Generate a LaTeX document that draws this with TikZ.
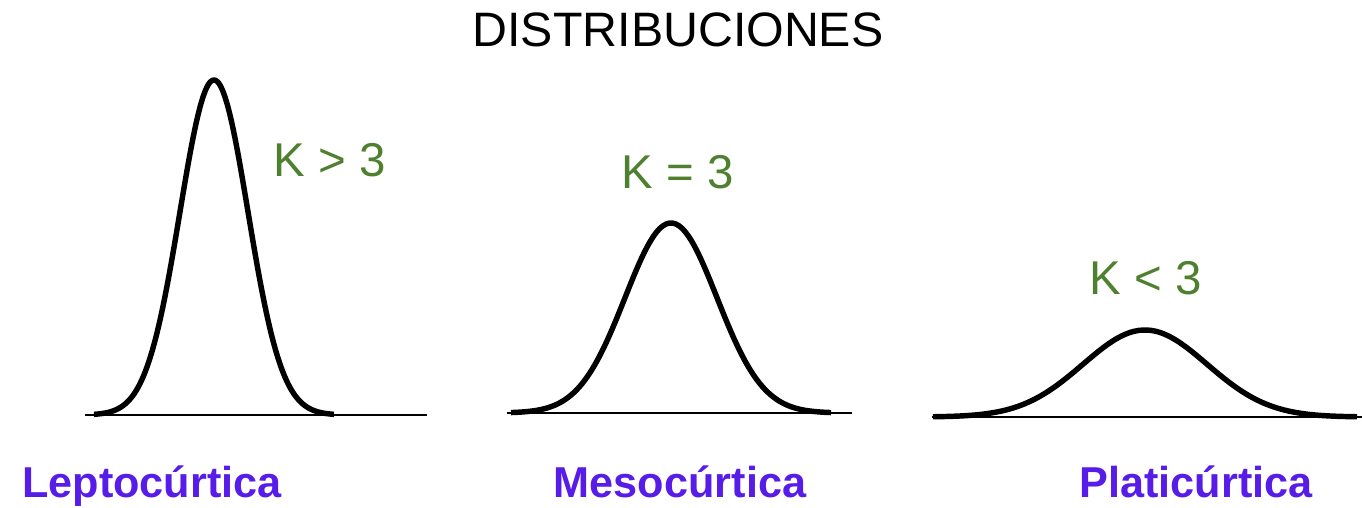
\documentclass[tikz,border=0pt]{standalone}
\usepackage{fontspec}
\setmainfont{Liberation Sans}
\usepackage{xcolor}
\usetikzlibrary{positioning}
\definecolor{kgreen}{RGB}{78,128,48}
\definecolor{kpurple}{RGB}{88,28,232}
\tikzstyle{bellcurve} = [line width=3.1pt, line join=round, black]
\tikzstyle{baseaxis}  = [line width=1.2pt, black]
\tikzstyle{kurt}      = [text=kgreen, font=\fontsize{27pt}{30pt}\selectfont, inner sep=0pt]
\tikzstyle{distname}  = [text=kpurple, font=\fontsize{24.6pt}{28pt}\selectfont\bfseries,
                         inner sep=0pt, anchor=base]

\begin{document}
\begin{tikzpicture}[x=0.02cm, y=0.02cm]

  \useasboundingbox (0,0) rectangle (1362,507);

  % Title
  \node (title) [font=\fontsize{27.5pt}{30pt}\selectfont, inner sep=0pt] at (678,477) {DISTRIBUCIONES};

  % Leptocurtica
  \draw[baseaxis] (85,92) -- (427,92);
  \draw[bellcurve, shift={(214,92)}] plot[domain=-120:120, samples=100, smooth]
       (\x, {335*exp(-0.5*(\x/34)^2)});
  \node (klep) [kurt] at (330,347) {K > 3};
  \node (lep)  [distname] at (152,10) {Leptocúrtica};

  % Mesocurtica
  \draw[baseaxis] (507,94) -- (852,94);
  \draw[bellcurve, shift={(671,94)}] plot[domain=-160:160, samples=100, smooth]
       (\x, {190*exp(-0.5*(\x/46)^2)});
  \node (kmes) [kurt] at (678,335) {K = 3};
  \node (mes)  [distname] at (680,10) {Mesocúrtica};

  % Platicurtica
  \draw[baseaxis] (932,90) -- (1362,90);
  \draw[bellcurve, shift={(1145,90)}] plot[domain=-212:212, samples=100, smooth]
       (\x, {87*exp(-0.5*(\x/62)^2)});
  \node (kpla) [kurt] at (1146,229) {K < 3};
  \node (pla)  [distname] at (1196,10) {Platicúrtica};

\end{tikzpicture}
\end{document}
